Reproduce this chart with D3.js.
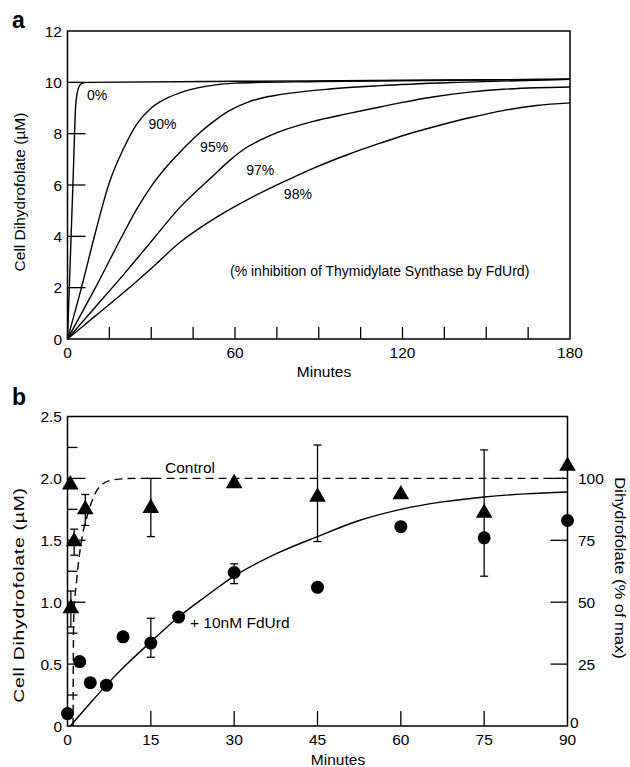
<!DOCTYPE html>
<html lang="en">
<head>
<meta charset="UTF-8">
<title>Dihydrofolate</title>
<script src="https://d3js.org/d3.v7.min.js"></script>
<style>
  body {margin:0; background:#fff;}
  svg text {font-family: "Liberation Sans", Arial, Helvetica, sans-serif; fill:#000;}
  .box {fill:none; stroke:#000; stroke-width:1.5;}
  .tick {stroke:#000; stroke-width:1.3;}
  .curve {fill:none; stroke:#000; stroke-width:1.4;}
</style>
</head>
<body>
<div id="chart"></div>
<script>
// ---- panel a : simulated curves (minutes, uM) ----
var curve0  = [[0,0],[1,3.1],[2,6.2],[3,9.2],[4,9.8],[5,9.95],[7,10.0],[60,10.04],[120,10.08],[180,10.12]];
var curve90 = [[0,0],[5,2.0],[10,4.15],[15,6.1],[20,7.4],[25,8.4],[30,9.0],[35,9.35],[40,9.58],[50,9.85],[60,9.97],[90,10.03],[180,10.12]];
var curve95 = [[0,0],[10,2.0],[20,4.1],[25,5.1],[30,5.95],[35,6.65],[40,7.25],[47,8.0],[52,8.45],[58,8.9],[64,9.2],[70,9.4],[76,9.52],[94,9.74],[112,9.87],[140,10.0],[180,10.12]];
var curve97 = [[0,0],[10,1.25],[20,2.5],[30,3.8],[40,5.1],[52,6.34],[58,6.95],[64,7.45],[70,7.8],[76,8.08],[88,8.48],[100,8.77],[112,9.04],[120,9.22],[132,9.45],[144,9.62],[156,9.73],[168,9.79],[180,9.82]];
var curve98 = [[0,0],[10,0.9],[20,1.8],[30,2.75],[40,3.74],[52,4.65],[64,5.4],[76,6.05],[88,6.65],[100,7.17],[112,7.63],[120,7.92],[132,8.29],[144,8.62],[156,8.9],[168,9.1],[180,9.2]];
var curveNames = ["0%", "90%", "95%", "97%", "98%"];
var curveLabelPos = [[7,9.3],[29,8.2],[47.5,7.3],[64,6.4],[77.5,5.45]];
var aXTicks = [15,30,45,60,75,90,105,120,135,150,165];
var aXLabels = [0,60,120,180];
var aYTicks = [2,4,6,8,10];
var aYLabels = [0,2,4,6,8,10,12];

// ---- panel b : measured points ----
var triT  = [0.5, 0.6, 1.2, 3.2, 15, 30, 45, 60, 75, 90];
var triV  = [1.95, 0.95, 1.49, 1.75, 1.76, 1.96, 1.85, 1.87, 1.72, 2.1];
var triLo = [null, 0.80, 1.38, 1.62, 1.53, null, 1.49, null, 1.21, null];
var triHi = [null, 1.09, 1.59, 1.87, 2.00, null, 2.27, null, 2.23, null];
var circT  = [0, 2.2, 4.1, 7, 10, 15, 20, 30, 45, 60, 75, 90];
var circV  = [0.10, 0.52, 0.35, 0.33, 0.72, 0.67, 0.88, 1.24, 1.12, 1.61, 1.52, 1.66];
var circLo = [null, null, null, null, null, 0.555, null, 1.15, null, null, null, null];
var circHi = [null, null, null, null, null, 0.87, null, 1.31, null, null, null, null];
var fitT = [0.5, 4, 7, 10, 15, 20, 25, 30, 37.5, 45, 52.5, 60, 67.5, 75, 82.5, 90];
var fitV = [0, 0.18, 0.33, 0.47, 0.68, 0.88, 1.05, 1.21, 1.39, 1.53, 1.66, 1.75, 1.81, 1.85, 1.875, 1.89];
var ctrlT = [1, 1.1, 1.7, 2.6, 3.5, 5, 6.5, 8.5, 12, 90];
var ctrlV = [0, 0.85, 1.2, 1.52, 1.69, 1.88, 1.96, 1.99, 2.0, 2.0];
var bXTicks = [15,30,45,60,75];
var bXLabels = [0,15,30,45,60,75,90];
var bYTicks = [0.25,0.5,0.75,1.0,1.25,1.5,1.75,2.0,2.25];
var bYLabels = [0,0.5,1.0,1.5,2.0,2.5];
var pctTicks = [25,50,75,100];
var pctLabels = [0,25,50,75,100];

var svg = d3.select("#chart").append("svg")
    .attr("width", 630).attr("height", 767);

// ================= panel a =================
var xa = d3.scaleLinear().domain([0,180]).range([67.5,570]);
var ya = d3.scaleLinear().domain([0,12]).range([339,31]);

var line = d3.line().x(function(d){return xa(d[0]);}).y(function(d){return ya(d[1]);})
    .curve(d3.curveMonotoneX);

var ga = svg.append("g");
[curve0, curve90, curve95, curve97, curve98].forEach(function(c){
    ga.append("path").attr("class","curve").attr("d", line(c));
});

ga.selectAll(".xt").data(aXTicks).enter().append("line").attr("class","tick")
    .attr("x1", function(d){return xa(d);}).attr("x2", function(d){return xa(d);})
    .attr("y1", ya(0)).attr("y2", ya(0) - 12);
ga.selectAll(".yt").data(aYTicks).enter().append("line").attr("class","tick")
    .attr("x1", xa(0)).attr("x2", xa(0) + 18)
    .attr("y1", function(d){return ya(d);}).attr("y2", function(d){return ya(d);});

ga.append("rect").attr("class","box")
    .attr("x", xa(0)).attr("y", ya(12))
    .attr("width", xa(180) - xa(0)).attr("height", ya(0) - ya(12));

ga.selectAll(".xl").data(aXLabels).enter().append("text")
    .attr("x", function(d){return xa(d);}).attr("y", 358)
    .attr("text-anchor","middle").style("font-size","15.5px").text(function(d){return d;});
ga.selectAll(".yl").data(aYLabels).enter().append("text")
    .attr("x", 62).attr("y", function(d){return ya(d);}).attr("dy","0.36em")
    .attr("text-anchor","end").style("font-size","15.5px").text(function(d){return d;});

ga.selectAll(".cl").data(curveNames).enter().append("text")
    .attr("x", function(d,i){return xa(curveLabelPos[i][0]);})
    .attr("y", function(d,i){return ya(curveLabelPos[i][1]);})
    .style("font-size","14px").text(function(d){return d;});

ga.append("text").attr("x", 230).attr("y", 276).style("font-size","14px")
    .text("(% inhibition of Thymidylate Synthase by FdUrd)");
ga.append("text").attr("x", 324).attr("y", 377).attr("text-anchor","middle")
    .style("font-size","15.5px").text("Minutes");
ga.append("text").attr("transform","translate(25,192) rotate(-90)")
    .attr("text-anchor","middle").style("font-size","15.5px").text("Cell Dihydrofolate (\u00B5M)");
ga.append("text").attr("x", 12).attr("y", 28).style("font-size","23px")
    .style("font-weight","bold").text("a");

// ================= panel b =================
var xb = d3.scaleLinear().domain([0,90]).range([67.5,567.5]);
var yb = d3.scaleLinear().domain([0,2.5]).range([726,416.5]);
var yp = d3.scaleLinear().domain([0,125]).range([726,416.5]);

var gb = svg.append("g");

var lineB = d3.line().x(function(d){return xb(d[0]);}).y(function(d){return yb(d[1]);})
    .curve(d3.curveMonotoneX);
gb.append("path").attr("class","curve")
    .attr("d", lineB(fitT.map(function(t,i){return [t, fitV[i]];})));
gb.append("path").attr("class","curve").attr("stroke-dasharray","8,5")
    .attr("d", lineB(ctrlT.map(function(t,i){return [t, ctrlV[i]];})));

gb.selectAll(".xt").data(bXTicks).enter().append("line").attr("class","tick")
    .attr("x1", function(d){return xb(d);}).attr("x2", function(d){return xb(d);})
    .attr("y1", yb(0)).attr("y2", yb(0) - 15);
gb.selectAll(".yt").data(bYTicks).enter().append("line").attr("class","tick")
    .attr("x1", xb(0))
    .attr("x2", function(d){return xb(0) + (Math.round(d*100) % 50 === 0 ? 18 : 10);})
    .attr("y1", function(d){return yb(d);}).attr("y2", function(d){return yb(d);});
gb.selectAll(".pt").data(pctTicks).enter().append("line").attr("class","tick")
    .attr("x1", xb(90)).attr("x2", xb(90) - 17)
    .attr("y1", function(d){return yp(d);}).attr("y2", function(d){return yp(d);});

gb.append("rect").attr("class","box")
    .attr("x", xb(0)).attr("y", yb(2.5))
    .attr("width", xb(90) - xb(0)).attr("height", yb(0) - yb(2.5));

// error bars
function errBars(ts, lo, hi) {
    ts.forEach(function(t, i){
        if (lo[i] == null) return;
        var x = xb(t);
        gb.append("line").attr("class","tick").attr("x1",x).attr("x2",x)
            .attr("y1", yb(lo[i])).attr("y2", yb(hi[i]));
        [lo[i], hi[i]].forEach(function(v){
            gb.append("line").attr("class","tick").attr("x1",x-4).attr("x2",x+4)
                .attr("y1", yb(v)).attr("y2", yb(v));
        });
    });
}
errBars(triT, triLo, triHi);
errBars(circT, circLo, circHi);

var tri = d3.symbol().type(d3.symbolTriangle).size(120);
gb.selectAll(".tri").data(triT).enter().append("path")
    .attr("d", tri)
    .attr("transform", function(d,i){return "translate(" + xb(d) + "," + yb(triV[i]) + ")";})
    .attr("fill","#000");
gb.selectAll(".dot").data(circT).enter().append("circle")
    .attr("cx", function(d){return xb(d);})
    .attr("cy", function(d,i){return yb(circV[i]);})
    .attr("r", 6.5).attr("fill","#000");

gb.selectAll(".xl").data(bXLabels).enter().append("text")
    .attr("x", function(d){return xb(d);}).attr("y", 745)
    .attr("text-anchor","middle").style("font-size","15.5px").text(function(d){return d;});
gb.selectAll(".yl").data(bYLabels).enter().append("text")
    .attr("x", 62).attr("y", function(d){return yb(d);}).attr("dy","0.36em")
    .attr("text-anchor","end").style("font-size","15.5px")
    .text(function(d){return d === 0 ? "0" : d3.format(".1f")(d);});
gb.selectAll(".pl").data(pctLabels).enter().append("text")
    .attr("x", function(d){return d === 0 ? 570 : 578;})
    .attr("y", function(d){return d === 0 ? yp(d) - 4 : yp(d);}).attr("dy","0.36em")
    .style("font-size","15.5px").text(function(d){return d;});

gb.append("text").attr("x", 190).attr("y", 473).attr("text-anchor","middle")
    .style("font-size","15.5px").text("Control");
gb.append("text").attr("x", 190).attr("y", 628)
    .style("font-size","15.5px").text("+ 10nM FdUrd");
gb.append("text").attr("x", 338).attr("y", 765).attr("text-anchor","middle")
    .style("font-size","15.5px").text("Minutes");
// the scanned figure is stretched vertically, so these labels run longer than their font
gb.append("text").attr("transform","translate(24,595) rotate(-90) scale(1.25,1)")
    .attr("text-anchor","middle").style("font-size","15.5px").style("letter-spacing","0.6px")
    .text("Cell Dihydrofolate (\u00B5M)");
gb.append("text").attr("transform","translate(615,568) rotate(90) scale(1.1,1)")
    .attr("text-anchor","middle").style("font-size","15px")
    .text("Dihydrofolate (% of max)");
gb.append("text").attr("x", 12).attr("y", 405).style("font-size","23px")
    .style("font-weight","bold").text("b");
</script>
</body>
</html>
